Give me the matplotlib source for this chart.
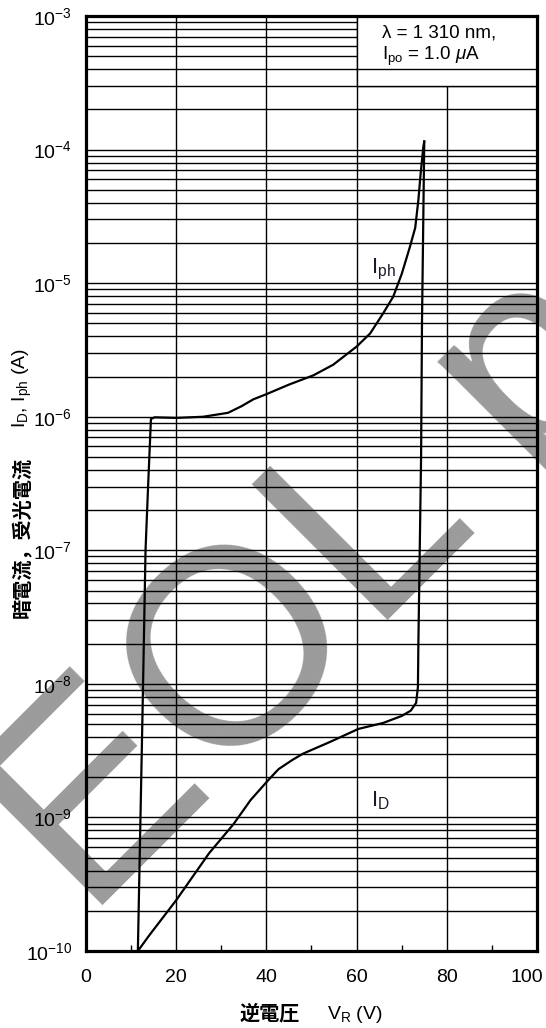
import matplotlib
matplotlib.use("Agg")
import matplotlib.pyplot as plt
from matplotlib.patches import Rectangle
from matplotlib.ticker import LogLocator, NullFormatter
from matplotlib.transforms import ScaledTranslation

# dark current I_D vs reverse voltage
v_dark = [11.5, 14.1, 20.0, 27.3, 32.7, 36.5, 40.4, 42.7, 45.8, 48.1, 54.3, 60.4,
          65.9, 70.0, 72.0, 73.2, 73.6, 73.7, 74.0, 74.3, 74.5, 74.8, 75.0]
i_dark = [1.0e-10, 1.32e-10, 2.4e-10, 5.4e-10, 8.9e-10, 1.35e-9, 1.9e-9, 2.3e-9,
          2.7e-9, 3.0e-9, 3.7e-9, 4.6e-9, 5.1e-9, 5.75e-9, 6.3e-9, 7.2e-9, 9.5e-9,
          2.0e-8, 1.0e-7, 5.0e-7, 5.0e-6, 3.2e-5, 1.15e-4]

# photocurrent I_ph vs reverse voltage
v_photo = [11.5, 12.6, 13.2, 13.8, 14.4, 15.2, 20.0, 26.0, 31.5, 34.5, 37.1, 40.1,
           45.0, 50.4, 54.8, 60.0, 63.0, 65.9, 68.1, 70.0, 71.8, 73.0, 73.7, 74.2,
           74.8, 75.0]
i_photo = [1.0e-10, 7.9e-9, 1.0e-7, 3.2e-7, 9.6e-7, 9.9e-7, 9.8e-7, 1.0e-6, 1.07e-6,
           1.2e-6, 1.35e-6, 1.48e-6, 1.74e-6, 2.04e-6, 2.45e-6, 3.35e-6, 4.2e-6,
           5.95e-6, 7.9e-6, 1.17e-5, 1.86e-5, 2.6e-5, 4.2e-5, 6.6e-5, 1.05e-4, 1.15e-4]

x_major = [0, 20, 40, 60, 80, 100]
x_minor = [10, 30, 50, 70, 90]

plt.rcParams["font.family"] = ["Liberation Sans", "Noto Sans CJK JP"]
plt.rcParams["mathtext.fontset"] = "custom"
plt.rcParams["mathtext.rm"] = "Liberation Sans"
plt.rcParams["mathtext.it"] = "Liberation Sans:italic"
plt.rcParams["mathtext.bf"] = "Liberation Sans:bold"

fig = plt.figure(figsize=(5.46, 10.28), dpi=100)

# EOL watermark, under everything
fig.text(0.1595, 0.1045, "EOL p", rotation=45, rotation_mode="anchor",
         ha="left", va="baseline", fontsize=201, color="#9b9b9b",
         family="Liberation Sans", zorder=-5)

ax = fig.add_axes([0.1575, 0.0749, 0.826, 0.9095])
ax.patch.set_visible(False)
ax.set_yscale("log")
ax.set_xlim(0, 100)
ax.set_ylim(1e-10, 1e-3)

ax.set_xticks(x_major)
ax.set_xticks(x_minor, minor=True)
ax.yaxis.set_major_locator(LogLocator(base=10, numticks=20))
ax.yaxis.set_minor_locator(LogLocator(base=10, subs=range(2, 10), numticks=20))
ax.yaxis.set_minor_formatter(NullFormatter())

ax.grid(which="major", axis="x", color="black", lw=1.0)
ax.grid(which="both", axis="y", color="black", lw=1.0)

ax.tick_params(axis="x", which="major", length=0, pad=13, labelsize=14)
ax.tick_params(axis="x", which="minor", direction="in", length=4, width=1)
ax.tick_params(axis="y", which="both", length=0, pad=10, labelsize=14)
for s in ax.spines.values():
    s.set_linewidth(2.3)

# keep "100" inside the figure like the original
fig.canvas.draw()
last = ax.get_xticklabels()[-1]
last.set_transform(last.get_transform() + ScaledTranslation(-0.1, 0, fig.dpi_scale_trans))

# condition box in the upper right
ax.add_patch(Rectangle((60, 3e-4), 40, 7e-4, facecolor="white",
                       edgecolor="black", lw=1.0, zorder=1.6))
ax.axhline(4e-4, xmin=0.6, xmax=1.0, color="black", lw=1.0, zorder=1.7)
ax.text(65.6, 6.93e-4, "λ = 1 310 nm,", fontsize=13.5, va="baseline", zorder=4)
ax.text(65.6, 4.69e-4, r"I$_\mathregular{po}$ = 1.0 $\mu$A", fontsize=13.5,
        va="baseline", zorder=4)

ax.plot(v_dark, i_dark, color="black", lw=1.6, zorder=3)
ax.plot(v_photo, i_photo, color="black", lw=1.6, zorder=3)

ax.text(63.3, 1.19e-5, r"I$_\mathregular{ph}$", fontsize=16, va="baseline", color="#1a1a2a")
ax.text(63.1, 1.21e-9, r"I$_\mathregular{D}$", fontsize=16, va="baseline", color="#1a1a2a")

# axis titles
fig.text(240 / 546, 1 - 1019 / 1028, "逆電圧", family="Noto Sans CJK JP",
         fontweight="bold", fontsize=14.5, ha="left", va="baseline")
fig.text(327 / 546, 1 - 1019 / 1028, r"V$_\mathregular{R}$ (V)", fontsize=14,
         ha="left", va="baseline")
fig.text(22 / 546, 1 - 618 / 1028, "暗電流，受光電流", family="Noto Sans CJK JP",
         fontweight="bold", fontsize=14.5, rotation=90, ha="center", va="bottom")
fig.text(22 / 546, 1 - 428 / 1028, r"I$_\mathregular{D}$, I$_\mathregular{ph}$ (A)",
         fontsize=14, rotation=90, ha="center", va="bottom")

fig.savefig("out.png", dpi=100)
